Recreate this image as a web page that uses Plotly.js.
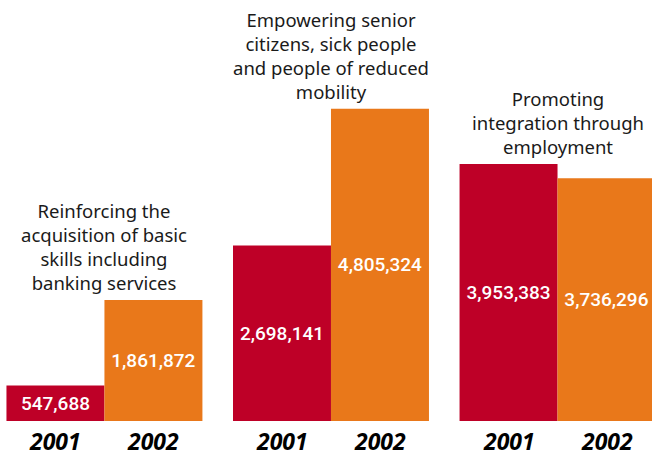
<!DOCTYPE html>
<html><head><meta charset="utf-8">
<script src="https://cdn.plot.ly/plotly-3.0.1.min.js"></script>
<style>html,body{margin:0;padding:0;background:#fff}#chart{width:652px;height:458px}</style>
</head><body><div id="chart"></div>
<script>
var groups = ["Reinforcing the<br>acquisition of basic<br>skills including<br>banking services",
              "Empowering senior<br>citizens, sick people<br>and people of reduced<br>mobility",
              "Promoting<br>integration through<br>employment"];
var years = ["2001", "2002"];
var values2001 = [547688, 2698141, 3953383];
var values2002 = [1861872, 4805324, 3736296];
var colors = ["#BE0027", "#E9781A"];

var keys = ["g1", "g2", "g3"];
var bargap = 0.135;
function fmt(v){ return v.toLocaleString("en-US"); }

function mk(vals, i){
  return {
    type: "bar", x: keys, y: vals, name: years[i],
    marker: {color: colors[i], line: {width: 0}},
    text: vals.map(fmt), textposition: "inside", insidetextanchor: "middle",
    textangle: 0, constraintext: "none",
    textfont: {family: "Roboto", size: 19, color: "#ffffff", weight: 500},
    hoverinfo: "skip"
  };
}
var data = [mk(values2001, 0), mk(values2002, 1)];

var ann = [];
var off = (1 - bargap) / 4;
keys.forEach(function(k, g){
  ann.push({
    x: g, y: Math.max(values2001[g], values2002[g]), xref: "x", yref: "y",
    text: groups[g], showarrow: false, yanchor: "bottom", xanchor: "center",
    yshift: 3, align: "center",
    font: {family: "Noto Sans", size: 18.5, color: "#1a1a1a"}
  });
  years.forEach(function(yr, i){
    ann.push({
      x: g + (i === 0 ? -off : off), y: 0, xref: "x", yref: "y",
      text: "<b><i>" + yr + "</i></b>", showarrow: false, yanchor: "top",
      xanchor: "center", yshift: -2,
      font: {family: "Noto Sans", size: 23, color: "#000000"}
    });
  });
});

var layout = {
  width: 652, height: 458,
  margin: {l: 0, r: 0, t: 0, b: 37},
  paper_bgcolor: "#ffffff", plot_bgcolor: "#ffffff",
  barmode: "group", bargap: bargap, bargroupgap: 0,
  showlegend: false,
  xaxis: {type: "category", range: [-0.461, 2.417], showticklabels: false,
          showgrid: false, zeroline: false, showline: false, ticks: ""},
  yaxis: {range: [0, 6477000], showticklabels: false, showgrid: false,
          zeroline: false, showline: false, ticks: ""},
  annotations: ann
};
Plotly.newPlot("chart", data, layout, {staticPlot: true, displayModeBar: false});
</script></body></html>
